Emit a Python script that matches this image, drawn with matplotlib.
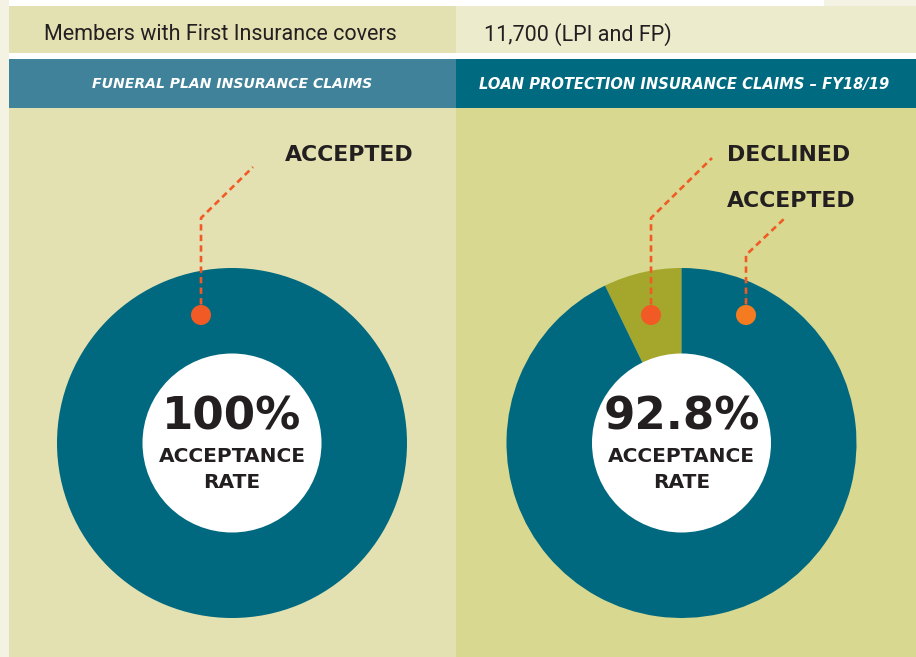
import matplotlib
matplotlib.use("Agg")
import matplotlib.pyplot as plt
from matplotlib.patches import Rectangle, Circle

# values from the chart
members_label = "Members with First Insurance covers"
members_value = "11,700 (LPI and FP)"
panel_titles = ["FUNERAL PLAN INSURANCE CLAIMS",
                "LOAN PROTECTION INSURANCE CLAIMS \u2013 FY18/19"]
funeral_accepted = [100.0]
loan_declined = 7.2
loan_accepted = 92.8
rate_labels = ["100%", "92.8%"]

W, H = 916, 657
TEAL = "#00697f"
OLIVE = "#a5a72c"
ORANGE = "#f15a24"
ORANGE2 = "#f47b20"
DARK = "#231f20"

fig = plt.figure(figsize=(W / 100, H / 100), dpi=100)
ax = fig.add_axes([0, 0, 1, 1])

def rect(x0, y0, x1, y1, color):
    ax.add_patch(Rectangle((x0, y0), x1 - x0, y1 - y0, color=color, lw=0, zorder=0))

# background blocks
rect(0, 0, W, H, "#f4f3e3")
rect(9, 0, 824, 6, "#ffffff")
rect(9, 6, 456, 53, "#e3e1b2")
rect(456, 6, W, 53, "#ecebcc")
rect(9, 53, W, 59, "#ffffff")
rect(9, 59, 456, 108, "#3f8299")
rect(456, 59, W, 108, "#006a80")
rect(9, 108, 456, H, "#e3e1b2")
rect(456, 108, W, H, "#d8d891")

ax.text(44, 35, members_label, fontsize=15.5, family="Roboto", color=DARK, va="center", ha="left")
ax.text(484, 35, members_value, fontsize=15.5, family="Roboto", color=DARK, va="center", ha="left")
ax.text(232, 84, panel_titles[0], fontsize=10.1, color="white", fontweight="bold",
        style="italic", va="center", ha="center")
ax.text(684, 84, panel_titles[1], fontsize=10.6, color="white", fontweight="bold",
        style="italic", va="center", ha="center")

R_OUT, R_IN = 175, 89.5
centers = [(232, 443), (681.5, 443)]

# y axis is inverted, so angles run clockwise in data -> use negative start
ax.pie(funeral_accepted, colors=[TEAL], startangle=-90, counterclock=False,
       radius=R_OUT, center=centers[0], wedgeprops=dict(lw=0))
wedges, _ = ax.pie([loan_declined, loan_accepted], colors=[OLIVE, TEAL], startangle=-90,
                   counterclock=False, radius=R_OUT, center=centers[1], wedgeprops=dict(lw=0))

for (cx, cy), big in zip(centers, rate_labels):
    ax.add_patch(Circle((cx, cy), R_IN, color="white", lw=0, zorder=3))
    ax.text(cx, cy - 26, big, fontsize=32.5, fontweight="bold", color=DARK,
            ha="center", va="center", zorder=4)
    ax.text(cx, cy + 13, "ACCEPTANCE", fontsize=14.5, fontweight="bold", color=DARK,
            ha="center", va="center", zorder=4)
    ax.text(cx, cy + 39, "RATE", fontsize=14.5, fontweight="bold", color=DARK,
            ha="center", va="center", zorder=4)

# leader lines: (dot, elbow, end, label position, label, dot colour)
leaders = [
    ((201, 315), (201, 218), (253, 167), (285, 155), "ACCEPTED", ORANGE),
    ((651, 315), (651, 218), (712, 158), (727, 155), "DECLINED", ORANGE),
    ((746, 315), (746, 255), (785, 218), (727, 201), "ACCEPTED", ORANGE2),
]
for dot, elbow, end, lab, txt, col in leaders:
    ax.plot([dot[0], elbow[0], end[0]], [dot[1], elbow[1], end[1]], color=ORANGE,
            lw=1.9, dashes=(2.4, 1.6), zorder=5)
    ax.add_patch(Circle(dot, 10, color=col, lw=0, zorder=6))
    ax.text(lab[0], lab[1], txt, fontsize=15.8, fontweight="bold", color=DARK,
            ha="left", va="center", zorder=5)

ax.set_xlim(0, W)
ax.set_ylim(H, 0)
ax.set_aspect("auto")
ax.axis("off")

fig.savefig("out.png", dpi=100)
